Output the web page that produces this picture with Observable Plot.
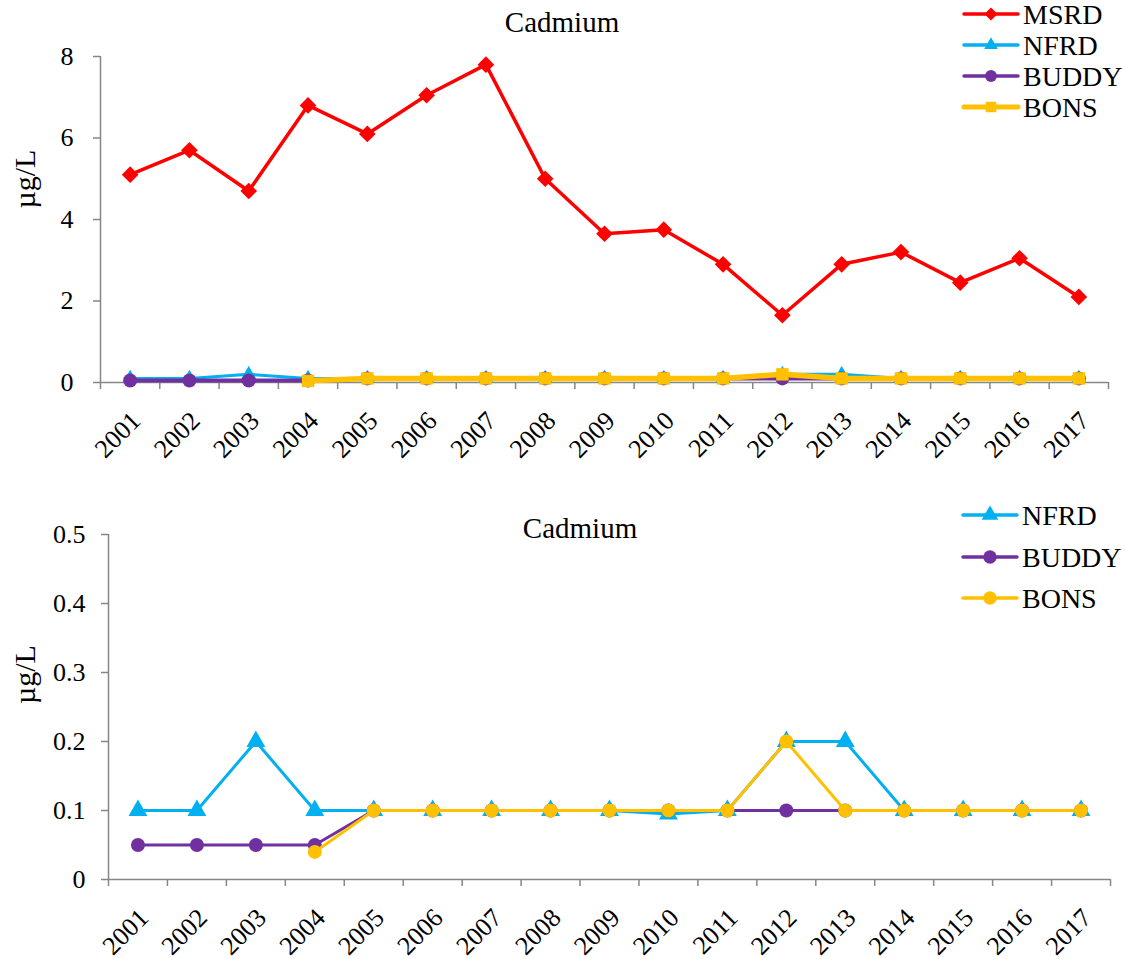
<!DOCTYPE html>
<html>
<head>
<meta charset="utf-8">
<script src="https://cdn.jsdelivr.net/npm/d3@7"></script>
<script src="https://cdn.jsdelivr.net/npm/@observablehq/plot@0.6"></script>
<style>
  body { margin: 0; background: #fff; }
  #wrap { position: relative; width: 1126px; height: 959px; overflow: hidden;
          font-family: "Liberation Serif", "Times New Roman", serif; }
  #wrap > svg, #wrap > div { position: absolute; left: 0; }
</style>
</head>
<body>
<div id="wrap"></div>
<script>
// ---------- data ----------
const years = [2001, 2002, 2003, 2004, 2005, 2006, 2007, 2008, 2009, 2010, 2011, 2012, 2013, 2014, 2015, 2016, 2017];
const msrd  = [5.1, 5.7, 4.7, 6.8, 6.1, 7.05, 7.8, 5.0, 3.65, 3.75, 2.9, 1.65, 2.9, 3.2, 2.45, 3.05, 2.1];
const nfrd  = [0.1, 0.1, 0.2, 0.1, 0.1, 0.1, 0.1, 0.1, 0.1, 0.095, 0.1, 0.2, 0.2, 0.1, 0.1, 0.1, 0.1];
const buddy = [0.05, 0.05, 0.05, 0.05, 0.1, 0.1, 0.1, 0.1, 0.1, 0.1, 0.1, 0.1, 0.1, 0.1, 0.1, 0.1, 0.1];
const bons  = [null, null, null, 0.04, 0.1, 0.1, 0.1, 0.1, 0.1, 0.1, 0.1, 0.2, 0.1, 0.1, 0.1, 0.1, 0.1];

const chartTitle = "Cadmium";
const yLabel = "µg/L";
const topYTicks = [0, 2, 4, 6, 8];
const bottomYTicks = [0, 0.1, 0.2, 0.3, 0.4, 0.5];

// ---------- styling ----------
const FONT = "Liberation Serif, Times New Roman, serif";
const AXIS_GRAY = "#868686";
const COLORS = { MSRD: "#FF0000", NFRD: "#00B0F0", BUDDY: "#7030A0", BONS: "#FFC000" };

const wrap = document.getElementById("wrap");
const boundaries = years.map(y => y - 0.5).concat([years[years.length - 1] + 0.5]);

function rowsOf(values) {
  return years.map((year, i) => ({ year, value: values[i] }));
}

function makeChart(cfg) {
  const marks = [
    Plot.ruleY([0], { stroke: AXIS_GRAY, strokeWidth: 1.5 }),
    Plot.ruleX([boundaries[0]], { stroke: AXIS_GRAY, strokeWidth: 1.5 }),
    Plot.axisY({
      ticks: cfg.yTicks, tickSize: 7, tickPadding: cfg.yPad, stroke: AXIS_GRAY, strokeWidth: 1.5,
      fill: "black", fontSize: 26, label: null, tickFormat: cfg.yFormat
    }),
    Plot.axisX({
      ticks: boundaries, tickSize: 7, stroke: AXIS_GRAY, strokeWidth: 1.5,
      tickFormat: () => "", label: null
    }),
    Plot.axisX({
      ticks: years, tickSize: 0, tickPadding: cfg.xPad, tickRotate: -45, tickFormat: "d",
      fill: "black", fontSize: 26, label: null, dx: 6
    }),
    Plot.text([yLabel], { frameAnchor: "left", dx: -cfg.labelDx, dy: cfg.labelDy, rotate: -90, fontSize: 30, fill: "black" })
  ];
  for (const s of cfg.series) {
    const rows = rowsOf(s.values);
    marks.push(Plot.line(rows, { x: "year", y: "value", stroke: COLORS[s.name], strokeWidth: s.sw }));
    marks.push(Plot.dot(rows.filter(d => d.value != null), {
      x: "year", y: "value", symbol: s.symbol, fill: COLORS[s.name], stroke: "none", r: s.r
    }));
  }
  const svg = Plot.plot({
    width: 1126, height: cfg.height,
    marginLeft: cfg.ml, marginRight: cfg.mr, marginTop: cfg.mt, marginBottom: cfg.mb,
    style: { fontFamily: FONT, fontSize: "26px", background: "white", overflow: "visible" },
    x: { type: "linear", domain: [boundaries[0], boundaries[boundaries.length - 1]] },
    y: { domain: cfg.yDomain },
    marks
  });
  svg.style.top = cfg.top + "px";
  wrap.appendChild(svg);
}

function addTitle(cx, baseline) {
  const svg = d3.create("svg").attr("width", 1126).attr("height", 959)
    .style("top", "0px").style("pointer-events", "none");
  svg.append("text").attr("x", cx).attr("y", baseline).attr("text-anchor", "middle")
    .attr("font-family", FONT).attr("font-size", 29).attr("fill", "black").text(chartTitle);
  wrap.appendChild(svg.node());
}

function addLegend(items, x0, x1, ys, textX) {
  const svg = d3.create("svg").attr("width", 1126).attr("height", 959)
    .style("top", "0px").style("pointer-events", "none");
  items.forEach((s, i) => {
    const y = ys[i];
    svg.append("line").attr("x1", x0).attr("x2", x1).attr("y1", y).attr("y2", y)
      .attr("stroke", COLORS[s.name]).attr("stroke-width", s.lsw).attr("stroke-linecap", "round");
    const sym = { circle: d3.symbolCircle, triangle: d3.symbolTriangle, square: d3.symbolSquare, diamond2: d3.symbolDiamond2 }[s.symbol];
    svg.append("path").attr("d", d3.symbol(sym, s.lsize)()).attr("transform", `translate(${(x0 + x1) / 2},${y})`)
      .attr("fill", COLORS[s.name]);
    svg.append("text").attr("x", textX).attr("y", y + 10).attr("font-family", FONT)
      .attr("font-size", 28).attr("fill", "black").text(s.name);
  });
  wrap.appendChild(svg.node());
}

// ---------- top chart ----------
const topSeries = [
  { name: "MSRD",  values: msrd,  symbol: "diamond2", r: 7.5, sw: 3.5, lsw: 3.5, lsize: 110 },
  { name: "NFRD",  values: nfrd,  symbol: "triangle", r: 5.5, sw: 3,   lsw: 3.5, lsize: 80 },
  { name: "BUDDY", values: buddy, symbol: "circle",   r: 7,   sw: 4,   lsw: 3.5, lsize: 110 },
  { name: "BONS",  values: bons,  symbol: "square",   r: 7,   sw: 5.5, lsw: 5,   lsize: 110 }
];
makeChart({
  top: 0, height: 480, ml: 100, mr: 18, mt: 56, mb: 98,
  yDomain: [0, 8], yTicks: topYTicks, yFormat: d => String(d), yPad: 20, xPad: 34,
  labelDx: 75, labelDy: -11,
  series: topSeries
});

// ---------- bottom chart ----------
const bottomSeries = [
  { name: "NFRD",  values: nfrd,  symbol: "triangle", r: 7, sw: 3, lsw: 3.5, lsize: 120 },
  { name: "BUDDY", values: buddy, symbol: "circle",   r: 7, sw: 3, lsw: 3.5, lsize: 140 },
  { name: "BONS",  values: bons,  symbol: "circle",   r: 7, sw: 3, lsw: 3.5, lsize: 140 }
];
makeChart({
  top: 480, height: 479, ml: 108, mr: 16, mt: 54, mb: 80,
  yDomain: [0, 0.5], yTicks: bottomYTicks, yFormat: d => d === 0 ? "0" : d.toFixed(1), yPad: 16, xPad: 34,
  labelDx: 83, labelDy: -3,
  series: bottomSeries
});

addTitle(562, 32);
addTitle(580, 538);
addLegend(topSeries, 964, 1018, [14, 45, 76, 107], 1023);
addLegend(bottomSeries, 963, 1017, [515, 557, 598], 1022);
</script>
</body>
</html>
